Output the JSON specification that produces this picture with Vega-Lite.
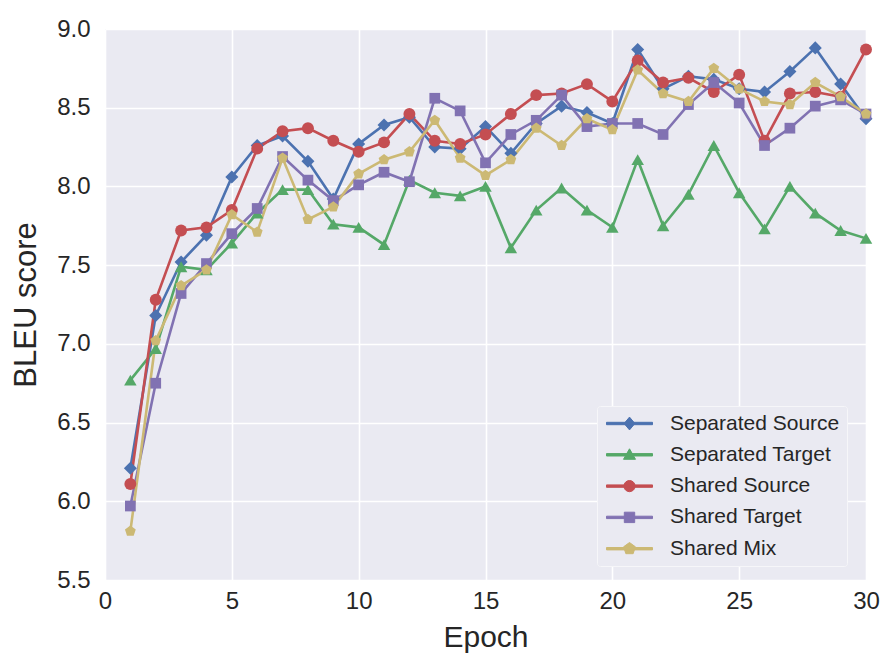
{
  "$schema": "https://vega.github.io/schema/vega-lite/v6.json",
  "autosize": {"type": "none"},
  "padding": {"left": 105, "top": 29, "right": 17, "bottom": 73},
  "width": 761,
  "height": 551,
  "background": "#ffffff",
  "config": {
    "view": {"fill": "#EAEAF2", "stroke": null},
    "font": "Liberation Sans",
    "axis": {
      "domain": false, "ticks": false, "grid": true, "gridColor": "#ffffff", "gridWidth": 1.6,
      "labelFont": "Liberation Sans", "labelFontSize": 24, "labelColor": "#262626", "labelFlush": false,
      "titleFont": "Liberation Sans", "titleFontWeight": "normal", "titleColor": "#262626"
    },
    "legend": {
      "orient": "none", "legendX": 492, "legendY": 377, "padding": 7,
      "fillColor": "#EAEAF2", "strokeColor": "#F6F6F9", "cornerRadius": 3,
      "symbolSize": 400, "symbolOffset": 15, "symbolStrokeWidth": 1, "symbolOpacity": 1,
      "labelFont": "Liberation Sans", "labelFontSize": 21, "labelColor": "#262626", "labelOffset": 30,
      "rowPadding": 9.3, "labelLimit": 300
    }
  },
  "data": {"values": [
    {"epoch":1,"series":"Separated Source","bleu":6.21},{"epoch":2,"series":"Separated Source","bleu":7.18},{"epoch":3,"series":"Separated Source","bleu":7.52},{"epoch":4,"series":"Separated Source","bleu":7.69},{"epoch":5,"series":"Separated Source","bleu":8.06},{"epoch":6,"series":"Separated Source","bleu":8.26},{"epoch":7,"series":"Separated Source","bleu":8.32},{"epoch":8,"series":"Separated Source","bleu":8.16},{"epoch":9,"series":"Separated Source","bleu":7.92},{"epoch":10,"series":"Separated Source","bleu":8.27},{"epoch":11,"series":"Separated Source","bleu":8.39},{"epoch":12,"series":"Separated Source","bleu":8.44},{"epoch":13,"series":"Separated Source","bleu":8.25},{"epoch":14,"series":"Separated Source","bleu":8.24},{"epoch":15,"series":"Separated Source","bleu":8.38},{"epoch":16,"series":"Separated Source","bleu":8.21},{"epoch":17,"series":"Separated Source","bleu":8.40},{"epoch":18,"series":"Separated Source","bleu":8.51},{"epoch":19,"series":"Separated Source","bleu":8.47},{"epoch":20,"series":"Separated Source","bleu":8.40},{"epoch":21,"series":"Separated Source","bleu":8.87},{"epoch":22,"series":"Separated Source","bleu":8.62},{"epoch":23,"series":"Separated Source","bleu":8.70},{"epoch":24,"series":"Separated Source","bleu":8.68},{"epoch":25,"series":"Separated Source","bleu":8.62},{"epoch":26,"series":"Separated Source","bleu":8.60},{"epoch":27,"series":"Separated Source","bleu":8.73},{"epoch":28,"series":"Separated Source","bleu":8.88},{"epoch":29,"series":"Separated Source","bleu":8.65},{"epoch":30,"series":"Separated Source","bleu":8.43},
    {"epoch":1,"series":"Separated Target","bleu":6.77},{"epoch":2,"series":"Separated Target","bleu":6.97},{"epoch":3,"series":"Separated Target","bleu":7.49},{"epoch":4,"series":"Separated Target","bleu":7.47},{"epoch":5,"series":"Separated Target","bleu":7.64},{"epoch":6,"series":"Separated Target","bleu":7.83},{"epoch":7,"series":"Separated Target","bleu":7.98},{"epoch":8,"series":"Separated Target","bleu":7.98},{"epoch":9,"series":"Separated Target","bleu":7.76},{"epoch":10,"series":"Separated Target","bleu":7.74},{"epoch":11,"series":"Separated Target","bleu":7.63},{"epoch":12,"series":"Separated Target","bleu":8.04},{"epoch":13,"series":"Separated Target","bleu":7.96},{"epoch":14,"series":"Separated Target","bleu":7.94},{"epoch":15,"series":"Separated Target","bleu":8.00},{"epoch":16,"series":"Separated Target","bleu":7.61},{"epoch":17,"series":"Separated Target","bleu":7.85},{"epoch":18,"series":"Separated Target","bleu":7.99},{"epoch":19,"series":"Separated Target","bleu":7.85},{"epoch":20,"series":"Separated Target","bleu":7.74},{"epoch":21,"series":"Separated Target","bleu":8.17},{"epoch":22,"series":"Separated Target","bleu":7.75},{"epoch":23,"series":"Separated Target","bleu":7.95},{"epoch":24,"series":"Separated Target","bleu":8.26},{"epoch":25,"series":"Separated Target","bleu":7.96},{"epoch":26,"series":"Separated Target","bleu":7.73},{"epoch":27,"series":"Separated Target","bleu":8.00},{"epoch":28,"series":"Separated Target","bleu":7.83},{"epoch":29,"series":"Separated Target","bleu":7.72},{"epoch":30,"series":"Separated Target","bleu":7.67},
    {"epoch":1,"series":"Shared Source","bleu":6.11},{"epoch":2,"series":"Shared Source","bleu":7.28},{"epoch":3,"series":"Shared Source","bleu":7.72},{"epoch":4,"series":"Shared Source","bleu":7.74},{"epoch":5,"series":"Shared Source","bleu":7.85},{"epoch":6,"series":"Shared Source","bleu":8.24},{"epoch":7,"series":"Shared Source","bleu":8.35},{"epoch":8,"series":"Shared Source","bleu":8.37},{"epoch":9,"series":"Shared Source","bleu":8.29},{"epoch":10,"series":"Shared Source","bleu":8.22},{"epoch":11,"series":"Shared Source","bleu":8.28},{"epoch":12,"series":"Shared Source","bleu":8.46},{"epoch":13,"series":"Shared Source","bleu":8.29},{"epoch":14,"series":"Shared Source","bleu":8.27},{"epoch":15,"series":"Shared Source","bleu":8.33},{"epoch":16,"series":"Shared Source","bleu":8.46},{"epoch":17,"series":"Shared Source","bleu":8.58},{"epoch":18,"series":"Shared Source","bleu":8.59},{"epoch":19,"series":"Shared Source","bleu":8.65},{"epoch":20,"series":"Shared Source","bleu":8.54},{"epoch":21,"series":"Shared Source","bleu":8.80},{"epoch":22,"series":"Shared Source","bleu":8.66},{"epoch":23,"series":"Shared Source","bleu":8.69},{"epoch":24,"series":"Shared Source","bleu":8.60},{"epoch":25,"series":"Shared Source","bleu":8.71},{"epoch":26,"series":"Shared Source","bleu":8.29},{"epoch":27,"series":"Shared Source","bleu":8.59},{"epoch":28,"series":"Shared Source","bleu":8.60},{"epoch":29,"series":"Shared Source","bleu":8.57},{"epoch":30,"series":"Shared Source","bleu":8.87},
    {"epoch":1,"series":"Shared Target","bleu":5.97},{"epoch":2,"series":"Shared Target","bleu":6.75},{"epoch":3,"series":"Shared Target","bleu":7.32},{"epoch":4,"series":"Shared Target","bleu":7.51},{"epoch":5,"series":"Shared Target","bleu":7.70},{"epoch":6,"series":"Shared Target","bleu":7.86},{"epoch":7,"series":"Shared Target","bleu":8.19},{"epoch":8,"series":"Shared Target","bleu":8.04},{"epoch":9,"series":"Shared Target","bleu":7.91},{"epoch":10,"series":"Shared Target","bleu":8.01},{"epoch":11,"series":"Shared Target","bleu":8.09},{"epoch":12,"series":"Shared Target","bleu":8.03},{"epoch":13,"series":"Shared Target","bleu":8.56},{"epoch":14,"series":"Shared Target","bleu":8.48},{"epoch":15,"series":"Shared Target","bleu":8.15},{"epoch":16,"series":"Shared Target","bleu":8.33},{"epoch":17,"series":"Shared Target","bleu":8.42},{"epoch":18,"series":"Shared Target","bleu":8.58},{"epoch":19,"series":"Shared Target","bleu":8.38},{"epoch":20,"series":"Shared Target","bleu":8.40},{"epoch":21,"series":"Shared Target","bleu":8.40},{"epoch":22,"series":"Shared Target","bleu":8.33},{"epoch":23,"series":"Shared Target","bleu":8.52},{"epoch":24,"series":"Shared Target","bleu":8.66},{"epoch":25,"series":"Shared Target","bleu":8.53},{"epoch":26,"series":"Shared Target","bleu":8.26},{"epoch":27,"series":"Shared Target","bleu":8.37},{"epoch":28,"series":"Shared Target","bleu":8.51},{"epoch":29,"series":"Shared Target","bleu":8.55},{"epoch":30,"series":"Shared Target","bleu":8.46},
    {"epoch":1,"series":"Shared Mix","bleu":5.81},{"epoch":2,"series":"Shared Mix","bleu":7.02},{"epoch":3,"series":"Shared Mix","bleu":7.37},{"epoch":4,"series":"Shared Mix","bleu":7.47},{"epoch":5,"series":"Shared Mix","bleu":7.82},{"epoch":6,"series":"Shared Mix","bleu":7.71},{"epoch":7,"series":"Shared Mix","bleu":8.18},{"epoch":8,"series":"Shared Mix","bleu":7.79},{"epoch":9,"series":"Shared Mix","bleu":7.87},{"epoch":10,"series":"Shared Mix","bleu":8.08},{"epoch":11,"series":"Shared Mix","bleu":8.17},{"epoch":12,"series":"Shared Mix","bleu":8.22},{"epoch":13,"series":"Shared Mix","bleu":8.42},{"epoch":14,"series":"Shared Mix","bleu":8.18},{"epoch":15,"series":"Shared Mix","bleu":8.07},{"epoch":16,"series":"Shared Mix","bleu":8.17},{"epoch":17,"series":"Shared Mix","bleu":8.37},{"epoch":18,"series":"Shared Mix","bleu":8.26},{"epoch":19,"series":"Shared Mix","bleu":8.43},{"epoch":20,"series":"Shared Mix","bleu":8.36},{"epoch":21,"series":"Shared Mix","bleu":8.74},{"epoch":22,"series":"Shared Mix","bleu":8.59},{"epoch":23,"series":"Shared Mix","bleu":8.54},{"epoch":24,"series":"Shared Mix","bleu":8.75},{"epoch":25,"series":"Shared Mix","bleu":8.62},{"epoch":26,"series":"Shared Mix","bleu":8.54},{"epoch":27,"series":"Shared Mix","bleu":8.52},{"epoch":28,"series":"Shared Mix","bleu":8.66},{"epoch":29,"series":"Shared Mix","bleu":8.57},{"epoch":30,"series":"Shared Mix","bleu":8.46}
  ]},
  "encoding": {
    "x": {"field": "epoch", "type": "quantitative", "title": "Epoch",
      "scale": {"domain": [0, 30], "nice": false, "zero": false},
      "axis": {"values": [0, 5, 10, 15, 20, 25, 30], "labelPadding": 9, "titlePadding": 9, "titleFontSize": 30}},
    "y": {"field": "bleu", "type": "quantitative", "title": "BLEU score",
      "scale": {"domain": [5.5, 9.0], "nice": false, "zero": false},
      "axis": {"values": [5.5, 6.0, 6.5, 7.0, 7.5, 8.0, 8.5, 9.0], "format": ".1f", "labelPadding": 15, "titlePadding": 14, "titleFontSize": 31}}
  },
  "layer": [
    {"mark": {"type": "line", "strokeWidth": 2.6},
     "encoding": {
       "color": {"field": "series", "type": "nominal", "title": null,
         "scale": {"domain": ["Separated Source", "Separated Target", "Shared Source", "Shared Target", "Shared Mix"],
                   "range": ["#4C72B0", "#55A868", "#C44E52", "#8172B2", "#CCB974"]},
         "legend": {
           "symbolType": {"expr": "datum.value === 'Separated Source' ? 'M-2.3,-0.12L2.3,-0.12L2.3,0.12L-2.3,0.12ZM0,-0.64L0.54,0L0,0.64L-0.54,0Z' : datum.value === 'Separated Target' ? 'M-2.3,-0.12L2.3,-0.12L2.3,0.12L-2.3,0.12ZM0,-0.6L0.6,0.45L-0.6,0.45Z' : datum.value === 'Shared Source' ? 'M-2.3,-0.12L2.3,-0.12L2.3,0.12L-2.3,0.12ZM0.56,0A0.56,0.56,0,1,1,-0.56,0A0.56,0.56,0,1,1,0.56,0Z' : datum.value === 'Shared Target' ? 'M-2.3,-0.12L2.3,-0.12L2.3,0.12L-2.3,0.12ZM-0.52,-0.52L0.52,-0.52L0.52,0.52L-0.52,0.52Z' : 'M-2.3,-0.12L2.3,-0.12L2.3,0.12L-2.3,0.12ZM0,-0.62L0.59,-0.19L0.365,0.5L-0.365,0.5L-0.59,-0.19Z'"},
           "symbolStrokeColor": {"expr": "scale('color', datum.value)"},
           "symbolFillColor": {"expr": "scale('color', datum.value)"}
         }}
     }},
    {"mark": {"type": "point", "filled": true, "opacity": 1},
     "encoding": {
       "color": {"field": "series", "type": "nominal", "legend": null},
       "shape": {"field": "series", "type": "nominal", "legend": null,
         "scale": {"domain": ["Shared Mix", "Shared Target", "Shared Source", "Separated Target", "Separated Source"],
                   "range": ["M0,-1L0.951,-0.309L0.588,0.809L-0.588,0.809L-0.951,-0.309Z", "square", "circle", "triangle-up", "diamond"]}},
       "size": {"field": "series", "type": "nominal", "legend": null,
         "scale": {"domain": ["Shared Target", "Shared Mix", "Shared Source", "Separated Target", "Separated Source"],
                   "range": [115, 170, 120, 140, 200]}}
     }}
  ]
}
